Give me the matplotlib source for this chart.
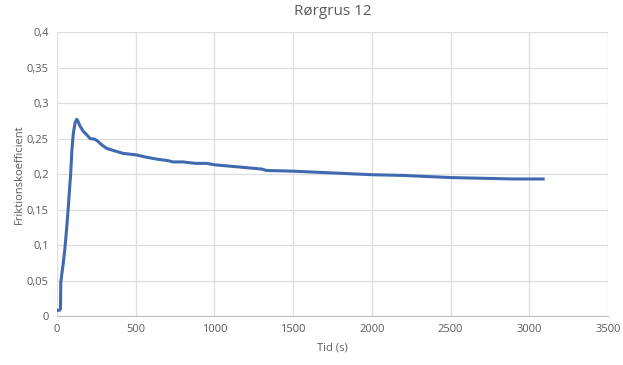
import matplotlib as mpl
mpl.use('Agg')
import matplotlib.pyplot as plt
from matplotlib.ticker import FuncFormatter, MultipleLocator

# friction test, tube gravel 12
tid = [0, 15, 22, 24, 30, 40, 50, 60, 72, 80, 87, 95, 104, 115, 125, 132,
       145, 167, 190, 210, 240, 260, 284, 316, 360, 421, 502, 560, 633,
       700, 739, 800, 880, 950, 1000, 1100, 1200, 1250, 1300, 1330, 1500,
       1600, 1700, 1900, 2000, 2200, 2300, 2500, 2700, 2900, 3088]
friktion = [0.008, 0.008, 0.01, 0.047, 0.058, 0.075, 0.095, 0.12, 0.154,
            0.18, 0.201, 0.235, 0.258, 0.272, 0.277, 0.275, 0.268, 0.26,
            0.255, 0.25, 0.249, 0.246, 0.241, 0.236, 0.233, 0.229, 0.227,
            0.224, 0.221, 0.219, 0.217, 0.217, 0.215, 0.215, 0.213, 0.211,
            0.209, 0.208, 0.207, 0.205, 0.204, 0.203, 0.202, 0.2, 0.199,
            0.198, 0.197, 0.195, 0.194, 0.193, 0.193]

plt.rcParams['font.family'] = ['Open Sans', 'DejaVu Sans']

fig = plt.figure(figsize=(6.23, 3.65), dpi=100)
ax = fig.add_axes([0.0915, 0.1342, 0.8845, 0.7781])

ax.plot(tid, friktion, '-', color='#4169b0', lw=2.2, solid_joinstyle='round')

ax.set_xlim(0, 3500)
ax.set_ylim(0, 0.4)
ax.xaxis.set_major_locator(MultipleLocator(500))
ax.yaxis.set_major_locator(MultipleLocator(0.05))
ax.yaxis.set_major_formatter(FuncFormatter(lambda v, p: ('%g' % round(v, 2)).replace('.', ',')))

ax.grid(True, color='#dedede', lw=0.9)
ax.set_axisbelow(True)
for s in ['top', 'right', 'left']:
    ax.spines[s].set_visible(False)
ax.spines['bottom'].set_color('#bfbfbf')
ax.tick_params(length=0, labelsize=8, colors='#595959', pad=6)

ax.set_xlabel('Tid (s)', fontsize=8, color='#595959', labelpad=5)
ax.set_ylabel('Friktionskoefficient', fontsize=8, color='#595959', labelpad=1)
ax.set_title('Rørgrus 12', fontsize=11, color='#595959', pad=12)

fig.savefig('out.png', dpi=100)
